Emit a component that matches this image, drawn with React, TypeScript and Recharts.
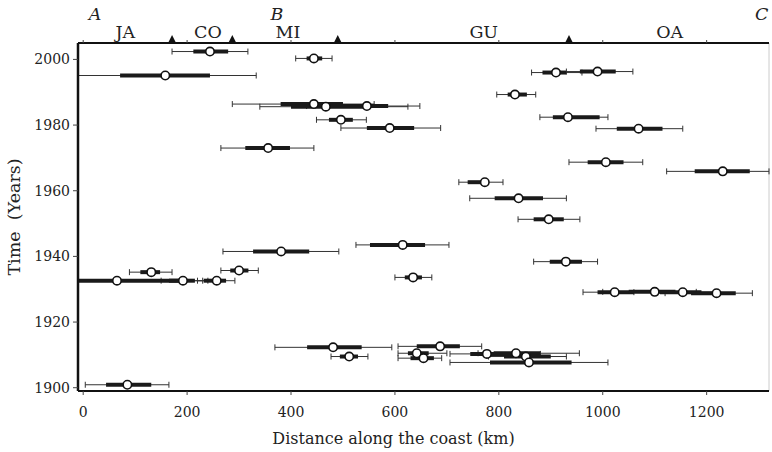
import { ScatterChart, Scatter, XAxis, YAxis, ErrorBar, ReferenceLine } from 'recharts';

// centre of each estimate (km along the coast) and its year
const distance = [
  244, 444, 158, 910, 990, 831, 444, 467, 546, 933, 496, 590, 1069, 356, 1006, 1231, 773, 838, 896, 615, 381,
  929, 300, 131, 635, 65, 192, 257, 1023, 1100, 1154, 1219, 481, 687, 512, 642, 655, 777, 833, 852, 858, 85,
];
const year = [
  2002.4, 2000.3, 1995.1, 1996.0, 1996.3, 1989.3, 1986.4, 1985.6, 1985.8, 1982.4, 1981.6, 1979.1, 1978.9, 1973.0,
  1968.7, 1965.9, 1962.6, 1957.7, 1951.3, 1943.5, 1941.5, 1938.4, 1935.7, 1935.2, 1933.6, 1932.6, 1932.6, 1932.6,
  1929.1, 1929.2, 1929.1, 1928.8, 1912.3, 1912.6, 1909.5, 1910.5, 1909.0, 1910.3, 1910.5, 1909.5, 1907.7, 1900.9,
];
// wide (thin line) range
const thinLow = [
  171, 409, -10, 863, 930, 796, 287, 340, 430, 879, 449, 496, 987, 265, 935, 1123, 723, 744, 837, 525, 269,
  867, 265, 89, 600, -10, 150, 220, 962, 1000, 1060, 1120, 369, 606, 477, 606, 606, 706, 760, 780, 706, 4,
];
const thinHigh = [
  317, 479, 333, 960, 1058, 871, 560, 625, 648, 1010, 545, 688, 1154, 444, 1077, 1320, 808, 930, 956, 704, 492,
  990, 337, 171, 671, 230, 240, 292, 1100, 1180, 1220, 1288, 594, 767, 548, 700, 690, 880, 955, 930, 1010, 165,
];
// narrow (thick line) range
const thickLow = [
  212, 430, 71, 884, 956, 817, 380, 400, 480, 904, 473, 546, 1027, 312, 971, 1177, 740, 792, 867, 552, 327,
  898, 283, 110, 619, -10, 165, 232, 990, 1050, 1110, 1170, 431, 642, 494, 625, 630, 745, 790, 810, 783, 44,
];
const thickHigh = [
  279, 460, 244, 930, 1025, 854, 500, 540, 587, 994, 519, 637, 1115, 398, 1040, 1283, 779, 885, 925, 658, 435,
  960, 318, 148, 652, 185, 215, 275, 1060, 1140, 1190, 1256, 536, 725, 529, 665, 675, 830, 880, 900, 940, 131,
];

const xTicks = [0, 200, 400, 600, 800, 1000, 1200];
const yTicks = [1900, 1920, 1940, 1960, 1980, 2000];

const regionNames = ['JA', 'CO', 'MI', 'GU', 'OA'];
const regionCenters = [81, 240, 394, 771, 1129];
const boundaries = [171, 287, 490, 935];
const sectionLetters = ['A', 'B', 'C'];
const letterPositions = [23, 373, 1306];

const data = distance.map((d, i) => ({
  x: d,
  y: year[i],
  thin: [d - thinLow[i], thinHigh[i] - d],
  thick: [d - thickLow[i], thickHigh[i] - d],
}));

const topTicks = [...xTicks, ...regionCenters, ...boundaries, ...letterPositions].sort((a, b) => a - b);

const TopTick = (props: any) => {
  const { x, y, payload } = props;
  const v = payload.value;
  const r = regionCenters.indexOf(v);
  if (r >= 0) {
    return (
      <text x={x} y={y - 5} textAnchor="middle" fontSize={17.5} fill="#222">
        {regionNames[r]}
      </text>
    );
  }
  const l = letterPositions.indexOf(v);
  if (l >= 0) {
    return (
      <text x={x} y={y - 23} textAnchor="middle" fontSize={17.5} fontStyle="italic" fill="#222">
        {sectionLetters[l]}
      </text>
    );
  }
  if (boundaries.includes(v)) {
    return <path d={`M${x - 4},${y} L${x + 4},${y} L${x},${y - 8} Z`} fill="#111" />;
  }
  return <line x1={x} y1={y} x2={x} y2={y - 3} stroke="#444" strokeWidth={1} />;
};

const Dot = (props: any) => (
  <circle cx={props.cx} cy={props.cy} r={4.2} fill="#fff" stroke="#111" strokeWidth={1.6} />
);

export default function App() {
  return (
    <div style={{ position: 'absolute', left: 0, top: 0, background: '#fff', fontFamily: 'DejaVu Serif' }}>
      <ScatterChart width={772} height={452} margin={{ top: 0, right: 3, bottom: 0, left: 0 }}>
        <XAxis
          xAxisId="top"
          orientation="top"
          type="number"
          dataKey="x"
          domain={[-10, 1320]}
          allowDataOverflow
          ticks={topTicks}
          interval={0}
          tick={<TopTick />}
          tickLine={false}
          tickSize={0}
          tickMargin={0}
          height={43}
          axisLine={{ stroke: '#111', strokeWidth: 2 }}
        />
        <XAxis
          type="number"
          dataKey="x"
          domain={[-10, 1320]}
          allowDataOverflow
          ticks={xTicks}
          interval={0}
          tickSize={4}
          tickMargin={12}
          height={61}
          axisLine={{ stroke: '#111', strokeWidth: 2 }}
          tickLine={{ stroke: '#444' }}
          tick={{ fontSize: 14, fill: '#222' }}
          label={{ value: 'Distance along the coast (km)', position: 'insideBottom', offset: 8, dx: -30, fontSize: 16, fill: '#222' }}
        />
        <YAxis
          type="number"
          dataKey="y"
          domain={[1899, 2005]}
          allowDataOverflow
          ticks={yTicks}
          interval={0}
          width={78}
          tickSize={5}
          tickMargin={3}
          axisLine={{ stroke: '#111', strokeWidth: 2.5 }}
          tickLine={{ stroke: '#444' }}
          tick={{ fontSize: 14, fill: '#222' }}
          label={{ value: 'Time\u00a0\u00a0(Years)', angle: -90, position: 'center', dx: -25, fontSize: 17.5, fill: '#222' }}
        />
        <ReferenceLine x={1320} stroke="#ccc" strokeWidth={1} />
        <Scatter data={data} shape={<Dot />} isAnimationActive={false}>
          <ErrorBar dataKey="thin" direction="x" width={3} stroke="#333" strokeWidth={1} isAnimationActive={false} />
          <ErrorBar dataKey="thick" direction="x" width={0} stroke="#1a1a1a" strokeWidth={4} isAnimationActive={false} />
        </Scatter>
      </ScatterChart>
    </div>
  );
}
